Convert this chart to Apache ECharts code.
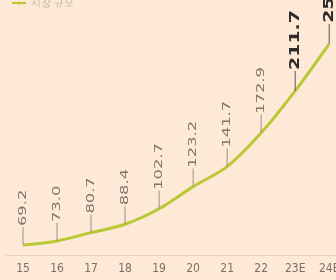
<!DOCTYPE html>
<html>
<head>
<meta charset="utf-8">
<script src="https://cdn.jsdelivr.net/npm/echarts@6/dist/echarts.min.js"></script>
<style>
  html, body { margin: 0; padding: 0; background: #fde9d5; }
  #main { width: 336px; height: 280px; }
</style>
</head>
<body>
<div id="main"></div>
<script>
// 연도 (E = 추정치)
var years = ['15', '16', '17', '18', '19', '20', '21', '22', '23E', '24E'];
var values = [69.2, 73.0, 80.7, 88.4, 102.7, 123.2, 141.7, 172.9, 211.7, 255.2];
var valueLabels = ['69.2', '73.0', '80.7', '88.4', '102.7', '123.2', '141.7', '172.9', '211.7', '255.2'];
var highlighted = [false, false, false, false, false, false, false, false, true, true];

var myChart = echarts.init(document.getElementById('main'), null, { renderer: 'canvas' });

var points = values.map(function (v, i) { return [i, v]; });
var idx = years.map(function (y, i) { return i; });
var narrow = '"Liberation Sans Narrow", "DejaVu Sans Condensed", sans-serif';

myChart.setOption({
    backgroundColor: '#fde9d5',
    animation: false,
    legend: {
        left: 6,
        top: -7,
        itemWidth: 14,
        itemHeight: 4,
        textStyle: { color: '#c2b4a6', fontSize: 10 },
        data: ['시장 규모']
    },
    grid: { left: 6, right: 0, top: 17, bottom: 25, outerBoundsMode: 'none', containLabel: false },
    xAxis: {
        type: 'value',
        min: -0.5,
        max: 9.2,
        splitLine: { show: false },
        axisLine: { show: true, lineStyle: { color: '#e6d2bd', width: 1 } },
        axisTick: { show: false },
        axisLabel: {
            customValues: idx,
            formatter: function (v) { return years[v]; },
            color: '#7a7068',
            fontFamily: narrow,
            fontSize: 12,
            margin: 8
        }
    },
    yAxis: {
        type: 'value',
        min: 60,
        max: 280,
        show: false
    },
    series: [{
        name: '시장 규모',
        type: 'line',
        data: points,
        smooth: 0.3,
        symbol: 'none',
        lineStyle: { color: '#b9c935', width: 3 },
        itemStyle: { color: '#b9c935' },
        z: 3
    }, {
        type: 'custom',
        data: points,
        z: 4,
        renderItem: function (params, api) {
            var i = params.dataIndex;
            var p = api.coord([api.value(0), api.value(1)]);
            var bold = highlighted[i];
            var len = bold ? 20 : 18;
            return {
                type: 'group',
                children: [{
                    type: 'line',
                    shape: { x1: p[0], y1: p[1], x2: p[0], y2: p[1] - len },
                    style: { stroke: bold ? '#5a5550' : '#9a928a', lineWidth: 1 }
                }, {
                    type: 'text',
                    x: p[0],
                    y: p[1] - len - 1,
                    rotation: Math.PI / 2,
                    scaleX: bold ? 1.5 : 1.65,
                    style: {
                        text: valueLabels[i],
                        align: 'left',
                        verticalAlign: 'middle',
                        fill: bold ? '#2f2b28' : '#7d746c',
                        font: (bold ? 'bold 14px ' : '11px ') + narrow
                    }
                }]
            };
        }
    }]
});
</script>
</body>
</html>
